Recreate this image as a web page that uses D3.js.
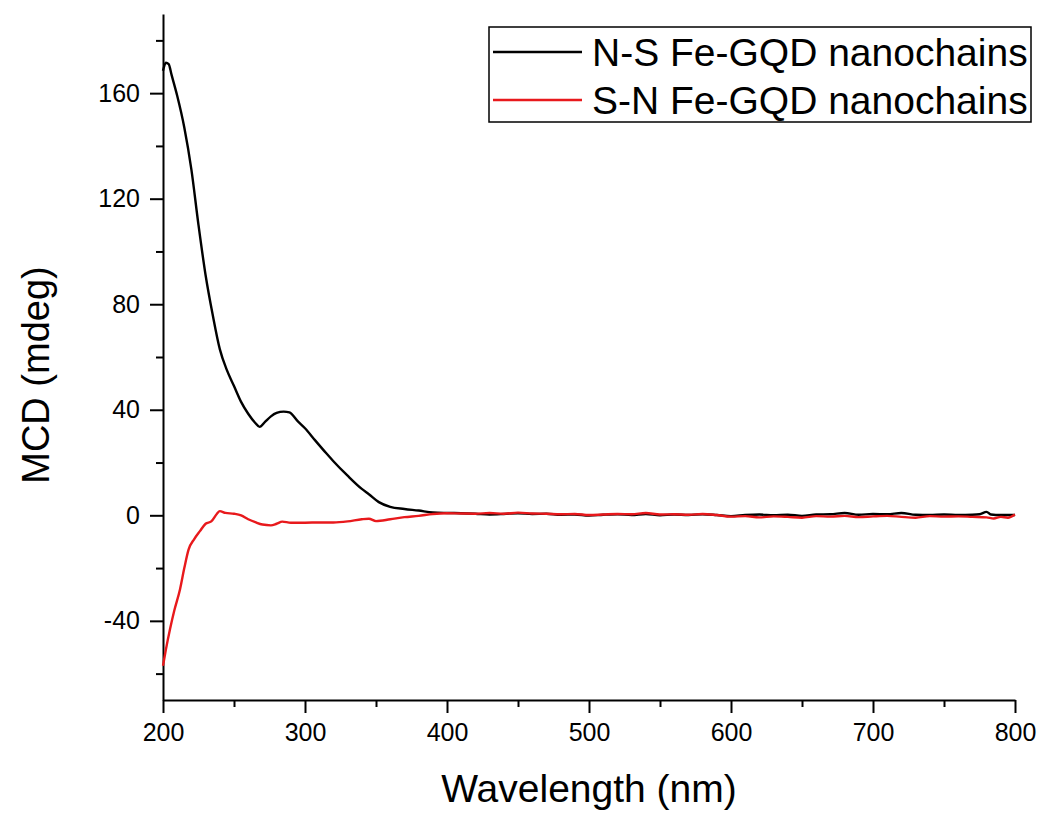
<!DOCTYPE html>
<meta charset="utf-8">
<style>
body { margin: 0; background: #fff; }
svg text { font-family: "Liberation Sans", Arial, sans-serif; fill: #000; }
.axis path, .axis line { fill: none; stroke: #000; stroke-width: 2; }
.axis text { font-size: 25px; }
.line { fill: none; stroke-width: 2.4; stroke-linejoin: round; }
</style>
<body>
<div id="chart"></div>
<script src="https://cdn.jsdelivr.net/npm/d3@7"></script>
<script>
// N-S Fe-GQD nanochains
var nsWavelength = [200,202,204,206,210,215,220,225,230,235,240,245,250,255,260,265,268,272,276,280,285,289,295,300,307,315,320,330,340,345,352,360,370,380,390,400,410,420,430,440,450,460,470,480,490,500,510,520,530,540,550,560,570,580,590,600,610,620,630,640,650,660,670,680,690,700,710,720,730,740,750,760,770,775,780,783,790,800];
var nsMcd = [168.5,171.5,171,167,159,147,131,110,91,76,63,55,49,43,38.5,35,33.5,35.5,37.5,38.8,39.3,39,35.6,33,28.5,23.5,20.5,15,10,8,5,3.2,2.4,1.8,1.1,0.9,0.8,0.6,0.3,0.5,0.8,0.5,0.6,0.2,0.3,-0.1,0.2,0.4,0.1,0.5,0,0.3,0.1,0.4,0.1,-0.3,0.1,0.3,0,0.2,-0.2,0.3,0.4,0.9,0.2,0.5,0.4,0.9,0.2,0.1,0.3,0.1,0.2,0.4,1.3,0.3,0.1,0.1];

// S-N Fe-GQD nanochains
var snWavelength = [200,202,205,208,212,215,218,222,226,230,234,238,240,244,250,255,260,265,270,276,280,284,290,300,310,320,330,340,345,350,360,370,380,390,400,410,420,430,440,450,460,470,480,490,500,510,520,530,540,550,560,570,580,590,600,610,620,630,640,650,660,670,680,690,700,710,720,730,740,750,760,770,780,785,790,795,800];
var snMcd = [-57,-51,-43,-36,-28,-20,-13,-9,-6,-3.2,-2.3,0.6,1.6,0.9,0.6,0,-1.5,-2.6,-3.5,-3.8,-3.2,-2.4,-2.8,-2.8,-2.7,-2.7,-2.3,-1.5,-1.3,-2.2,-1.5,-0.7,-0.2,0.5,0.8,0.7,0.6,0.9,0.6,1,0.7,0.6,0.4,0.5,0.1,0.3,0.5,0.4,0.9,0.3,0.4,0.2,0.5,0.1,-0.5,-0.3,-0.8,-0.4,-0.6,-0.9,-0.3,-0.5,-0.2,-0.7,-0.4,-0.2,-0.6,-0.9,-0.3,-0.5,-0.4,-0.6,-0.8,-1.2,-0.6,-0.9,0.3];

var seriesNames = ["N-S Fe-GQD nanochains", "S-N Fe-GQD nanochains"];
var seriesColors = ["#000000", "#e8191c"];

var xMajor = [200,300,400,500,600,700,800];
var xMinor = [250,350,450,550,650,750];
var yMajor = [-40,0,40,80,120,160];
var yMinor = [-60,-20,20,60,100,140,180];

var W = 1041, H = 813;
var margin = {top: 14, right: 26, bottom: 113, left: 163};

var svg = d3.select("#chart").append("svg").attr("width", W).attr("height", H);

var x = d3.scaleLinear().domain([200, 800]).range([margin.left, W - margin.right]);
var y = d3.scaleLinear().domain([-70, 190]).range([H - margin.bottom, margin.top]);

var plain = function(d) { return String(d); };  // hyphen minus, like the original

// minor ticks first, then major axes on top
svg.append("g").attr("class", "axis")
  .attr("transform", "translate(0," + (H - margin.bottom) + ")")
  .call(d3.axisBottom(x).tickValues(xMinor).tickSize(7).tickFormat(""))
  .select(".domain").remove();
svg.append("g").attr("class", "axis")
  .attr("transform", "translate(" + margin.left + ",0)")
  .call(d3.axisLeft(y).tickValues(yMinor).tickSize(7).tickFormat(""))
  .select(".domain").remove();

svg.append("g").attr("class", "axis")
  .attr("transform", "translate(0," + (H - margin.bottom) + ")")
  .call(d3.axisBottom(x).tickValues(xMajor).tickSize(13).tickSizeOuter(0).tickPadding(10).tickFormat(plain));
svg.append("g").attr("class", "axis")
  .attr("transform", "translate(" + margin.left + ",0)")
  .call(d3.axisLeft(y).tickValues(yMajor).tickSize(13).tickSizeOuter(0).tickPadding(10).tickFormat(plain));

var line = d3.line()
  .curve(d3.curveMonotoneX)
  .x(function(d) { return x(d[0]); })
  .y(function(d) { return y(d[1]); });

var series = [d3.zip(nsWavelength, nsMcd), d3.zip(snWavelength, snMcd)];
// red drawn last, on top of black
series.forEach(function(s, i) {
  svg.append("path").datum(s).attr("class", "line")
    .attr("stroke", seriesColors[i])
    .attr("d", line);
});

// axis titles
svg.append("text")
  .attr("x", (x(200) + x(800)) / 2)
  .attr("y", 802)
  .attr("text-anchor", "middle")
  .style("font-size", "39px")
  .text("Wavelength (nm)");

svg.append("text")
  .attr("transform", "translate(49," + 375 + ") rotate(-90)")
  .attr("text-anchor", "middle")
  .style("font-size", "38px")
  .text("MCD (mdeg)");

// legend
var legend = svg.append("g");
legend.append("rect")
  .attr("x", 489).attr("y", 27).attr("width", 542).attr("height", 95)
  .attr("fill", "#fff").attr("stroke", "#000").attr("stroke-width", 1.5);
seriesNames.forEach(function(name, i) {
  var cy = 52 + i * 48;
  legend.append("line")
    .attr("x1", 493).attr("x2", 582).attr("y1", cy).attr("y2", cy)
    .attr("stroke", seriesColors[i]).attr("stroke-width", 2.4);
  legend.append("text")
    .attr("x", 592).attr("y", cy + 14)
    .style("font-size", "39px")
    .text(name);
});
</script>
</body>
